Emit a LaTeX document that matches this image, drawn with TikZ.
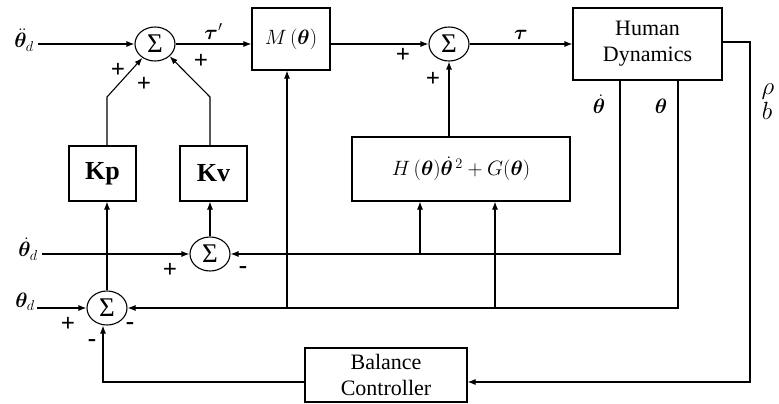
\documentclass[tikz,border=0pt]{standalone}
\usepackage{amsmath,bm}
\usepackage{fontspec}
\setmainfont{Liberation Serif}
\usetikzlibrary{arrows.meta,shapes.geometric}
\begin{document}
\begin{tikzpicture}[x=1pt,y=-1pt,line width=1.1pt,>={Latex[length=8pt,width=6pt]},
  blk/.style={draw,rectangle,inner sep=0pt},
  sumn/.style={draw,ellipse,minimum width=40pt,minimum height=34pt,inner sep=0pt,font=\fontsize{27}{27}\selectfont},
  sgn/.style={font=\fontsize{25}{25}\selectfont\bfseries,inner sep=0pt},
  lbl/.style={font=\fontsize{22}{22}\selectfont,inner sep=0pt},
  txt/.style={font=\fontsize{22}{26}\selectfont,align=center}]
\useasboundingbox (0,0) rectangle (779,404);
% blocks
\node[blk,minimum width=78pt,minimum height=62pt,font=\fontsize{21}{21}\selectfont] (M) at (291,39) {$M\,(\bm\theta)$};
\node[blk,minimum width=149pt,minimum height=72pt,txt] (HD) at (647.5,44) {Human\\Dynamics};
\node[blk,minimum width=218pt,minimum height=64pt,font=\fontsize{21}{21}\selectfont] (HG) at (461,169) {$H\,(\bm\theta)\dot{\bm\theta}^{\,2}+G(\bm\theta)$};
\node[blk,minimum width=67pt,minimum height=55pt,font=\fontsize{26}{26}\selectfont\bfseries] (Kp) at (102.5,173.5) {Kp};
\node[blk,minimum width=67pt,minimum height=55pt,font=\fontsize{26}{26}\selectfont\bfseries] (Kv) at (213.5,173.5) {Kv};
\node[blk,minimum width=162pt,minimum height=54pt,txt] (BC) at (386,375) {Balance\\Controller};
% summing junctions
\node[sumn] (s1) at (155,44) {Σ};
\node[sumn] (s2) at (449,44) {Σ};
\node[sumn] (s3) at (210,254) {Σ};
\node[sumn] (s4) at (107,308) {Σ};
% inputs
\node[lbl] (tdd) at (24,40) {$\ddot{\bm\theta}_d$};
\node[lbl] (td) at (28,249) {$\dot{\bm\theta}_d$};
\node[lbl] (t) at (25,302) {$\bm\theta_d$};
\draw[->,shorten <=4pt] (tdd.east |- s1) -- (s1.west);
\draw[->,shorten <=4pt] (td.east |- s3) -- (s3.west);
\draw[->,shorten <=2pt] (t.east |- s4) -- (s4.west);
% forward path
\draw[->] (s1.east) -- (s1 -| M.west) node[midway,above=4pt,lbl] (tp) {$\bm\tau'$};
\draw[->] (M.east |- s2) -- (s2.west);
\draw[->] (s2.east) -- (s2 -| HD.west) node[midway,above=4pt,lbl] (tl) {$\bm\tau$};
% feedback coordinates
\coordinate (r1) at (750,42);
\coordinate (r2) at (750,382);
\coordinate (b1) at (103,382);
\coordinate (tdr) at (620,254);
\coordinate (tr) at (678,308);
\coordinate (h1) at (420,254);
\coordinate (h2) at (495,308);
\coordinate (jm) at (287,308);
\coordinate (k1) at (107,97);
\coordinate (k2) at (210,97);
% outputs of human dynamics
\draw[->] (HD.east |- r1) -- (r1) -- (r2) -- (r2 -| BC.east);
\draw[->] (BC.west |- b1) -- (b1) -- (b1 |- s4.south);
\draw[->] (HD.south -| tdr) -- (tdr) -- (s3.east);
\draw[->] (HD.south -| tr) -- (tr) -- (s4.east);
\draw[->] (h1) -- (h1 |- HG.south);
\draw[->] (h2) -- (h2 |- HG.south);
\draw[->] (jm) -- (jm |- M.south);
\draw[->] (HG.north -| s2) -- (s2.south);
% gains
\draw[->] (s4.north) -- (s4.north |- Kp.south);
\draw[->] (s3.north) -- (s3.north |- Kv.south);
\draw[->] (k1 |- Kp.north) -- (k1) -- (s1);
\draw[->] (k2 |- Kv.north) -- (k2) -- (s1.320);
% output labels
\node[lbl] (ld) at (599,104) {$\dot{\bm\theta}$};
\node[lbl] (lt) at (661,106) {$\bm\theta$};
\node[lbl,font=\fontsize{24}{24}\selectfont] (lr) at (768,92) {$\rho$};
\node[lbl,font=\fontsize{24}{24}\selectfont] (lb) at (767,111) {$b$};
% signs
\node[sgn] at (118,70) {+};
\node[sgn] at (144,84) {+};
\node[sgn] at (201,61) {+};
\node[sgn] at (403,55) {+};
\node[sgn] at (433,79) {+};
\node[sgn] at (170,270) {+};
\node[sgn] at (243,270) {-};
\node[sgn] at (68,324) {+};
\node[sgn] at (130,326) {-};
\node[sgn] at (92,343) {-};
\end{tikzpicture}
\end{document}
